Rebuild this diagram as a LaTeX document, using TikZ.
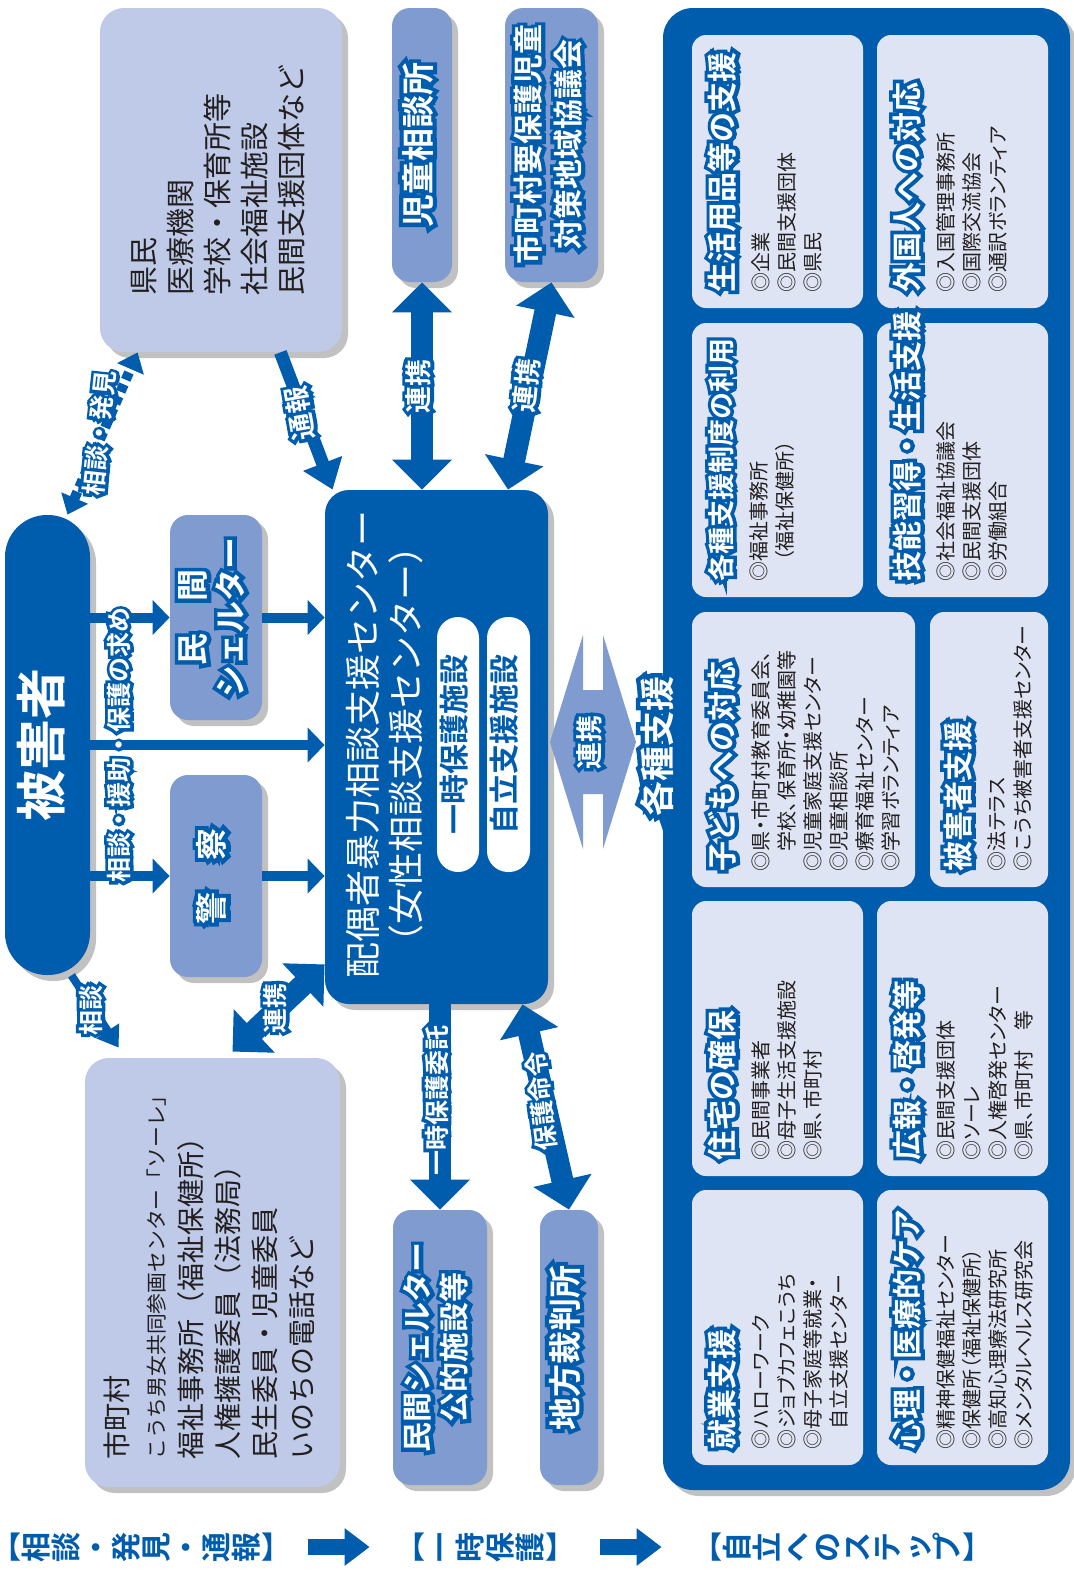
\documentclass[tikz,border=0pt]{standalone}
\usepackage{fontspec}
\usepackage{graphicx}
\setmainfont{Noto Sans CJK JP}
\newfontfamily\hfont{Noto Sans CJK JP Bold}
\newfontfamily\hofont{Noto Sans CJK JP Bold}[FakeBold=25]
\newfontfamily\itemfont{Noto Sans CJK JP}[RawFeature=+palt]
\usetikzlibrary{arrows.meta, positioning, calc, fit, shadows}

\definecolor{dv}{RGB}{0,92,172}
\definecolor{midb}{RGB}{127,155,208}
\definecolor{lav}{RGB}{190,202,231}
\definecolor{pale}{RGB}{222,228,243}
\definecolor{ink}{RGB}{35,31,32}

\newcommand\fs[2]{\fontsize{#1}{#2}\selectfont}
\newcommand\halo[1]{\leavevmode\rlap{\textcolor{dv}{\hofont #1}}\textcolor{white}{\hfont #1}}
\newcommand\vl[2][90]{\raisebox{-\height}{\rotatebox{#1}{\begin{tabular}{@{}c@{}}#2\end{tabular}}}}
\newcommand\vll[1]{\raisebox{-\height}{\rotatebox{90}{\begin{tabular}{@{}l@{}}#1\end{tabular}}}}
\newcommand\rc[1]{\rotatebox[origin=c]{90}{\raisebox{0pt}[.88em][.12em]{#1}}}
\newcommand\paneltext[3][15]{\fs{10}{13}\itemfont
  \rotatebox{90}{\begin{tabular}{@{}l@{}}{\fs{#1}{13}\halo{#2}}\\[4.5pt]#3\end{tabular}}}

\begin{document}
\begin{tikzpicture}[x=0.5pt, y=-0.5pt,
  box/.style={inner sep=0pt, drop shadow={shadow xshift=3pt, shadow yshift=-3pt,
              fill=black!60, opacity=.4}},
  lavbox/.style={box, fill=lav, rounded corners=12pt, text=ink},
  midbox/.style={box, fill=midb, rounded corners=9pt},
  darkbox/.style={box, fill=dv, rounded corners=12pt, text=white},
  pane/.style={inner sep=0pt, fill=pale, rounded corners=7pt},
  pill/.style={inner sep=0pt, fill=white, rounded corners=10.5pt, text=dv, font=\hfont},
  ptxt/.style={anchor=south west, inner sep=0pt, text=ink},
  lbl/.style={inner sep=0pt},
  stage/.style={inner sep=0pt, text=dv, font={\fs{15}{18}\hfont}},
  arr/.style={draw=dv, line width=5pt, -{Triangle[length=8.5pt, width=17pt]}},
  sarr/.style={draw=dv, line width=4pt, -{Triangle[length=10pt, width=13pt]}},
  marr/.style={draw=dv, line width=6.5pt, -{Triangle[length=14pt, width=20pt]}},
  farr/.style={draw=dv, line width=11pt, -{Triangle[length=15pt, width=29pt]}},
  dfarr/.style={farr, {Triangle[length=15pt, width=29pt]}-{Triangle[length=15pt, width=29pt]}},
  darr/.style={draw=dv, line width=5pt, dash pattern=on 4pt off 2.5pt,
               {Triangle[length=9pt, width=14pt]}-{Triangle[length=9pt, width=14pt]}},
  starr/.style={draw=dv, line width=8pt, -{Triangle[length=12.5pt, width=18pt]}}
]
\fill[white] (0,0) rectangle (1073,1574);
\useasboundingbox (0,0) rectangle (1073,1574);

% consultation column
\node[lavbox, fit={(100,8) (342,352)}] (kenmin)
  {\fs{14.5}{18.5}\vll{県民\\医療機関\\学校・保育所等\\社会福祉施設\\民間支援団体など}};
\node[darkbox, rounded corners=21pt, fit={(5,515) (90,975)}] (higaisha)
  {\fs{25.5}{30}\hfont\vl{被害者}};
\node[midbox, fit={(170,515) (262,720)}] (shelter)
  {\fs{16}{19}\vl{\halo{民　間}\\\halo{シェルター}}};
\node[midbox, fit={(170,775) (262,977)}] (keisatsu)
  {\fs{16}{19}\vl{\halo{警　察}}};
\node[lavbox, fit={(85,1058) (340,1487)}] (shichoson)
  {\fs{14}{18.5}\vll{市町村\\{\fs{10.4}{18.5}こうち男女共同参画センター「ソーレ」}\\
   福祉事務所（福祉保健所）\\人権擁護委員（法務局）\\民生委員・児童委員\\いのちの電話など}};

% centre and protection column
\node[darkbox, fit={(325,490) (548,1004)}] (dv) {};
\node[lbl, text=white] (dvtitle) at (389,744)
  {\fs{18}{20.5}\vl{配偶者暴力相談支援センター\\（女性相談支援センター）}};
\node[pill, fit={(437,617) (479,872)}] (hogo) {\fs{15}{18}\vl{一時保護施設}};
\node[pill, fit={(487,617) (530,872)}] (jiritsu) {\fs{15}{18}\vl{自立支援施設}};
\node[midbox, fit={(392,8) (452,282)}] (jido) {\fs{16.5}{20}\vl{\halo{児童相談所}}};
\node[midbox, fit={(505,8) (598,282)}] (kyogikai)
  {\fs{15}{20}\vl{\halo{市町村要保護児童}\\\halo{対策地域協議会}}};
\node[midbox, fit={(393,1210) (487,1485)}] (ichiji)
  {\fs{15}{18.5}\vl{\halo{民間シェルター}\\\halo{公的施設等}}};
\node[midbox, fit={(540,1210) (598,1485)}] (chisai) {\fs{16.5}{20}\vl{\halo{地方裁判所}}};

% support panel
\node[darkbox, rounded corners=15pt, fit={(663,8) (1070,1490)}] (panel) {};
\node[pane, fit={(692,35) (863,308)}] (seikatsu) {};
\node[pane, fit={(877,35) (1048,308)}] (gaikoku) {};
\node[pane, fit={(692,323) (863,597)}] (seido) {};
\node[pane, fit={(877,323) (1048,597)}] (gino) {};
\node[pane, fit={(692,612) (915,887)}] (kodomo) {};
\node[pane, fit={(930,612) (1048,887)}] (higai) {};
\node[pane, fit={(692,901) (863,1176)}] (jutaku) {};
\node[pane, fit={(877,901) (1048,1176)}] (koho) {};
\node[pane, fit={(692,1190) (863,1465)}] (shugyo) {};
\node[pane, fit={(877,1190) (1048,1465)}] (shinri) {};

\node[ptxt] (seikatsu-t) at ([xshift=8pt, yshift=8pt]seikatsu.south west)
  {\paneltext{生活用品等の支援}{◎企業\\◎民間支援団体\\◎県民}};
\node[ptxt] (gaikoku-t) at ([xshift=8pt, yshift=8pt]gaikoku.south west)
  {\paneltext{外国人への対応}{◎入国管理事務所\\◎国際交流協会\\◎通訳ボランティア}};
\node[ptxt] (seido-t) at ([xshift=8pt, yshift=8pt]seido.south west)
  {\paneltext[13.5]{各種支援制度の利用}{◎福祉事務所\\　（福祉保健所）}};
\node[ptxt] (gino-t) at ([xshift=8pt, yshift=8pt]gino.south west)
  {\paneltext{技能習得・生活支援}{◎社会福祉協議会\\◎民間支援団体\\◎労働組合}};
\node[ptxt] (kodomo-t) at ([xshift=8pt, yshift=8pt]kodomo.south west)
  {\paneltext{子どもへの対応}{◎県・市町村教育委員会、\\　学校、保育所・幼稚園等\\
   ◎児童家庭支援センター\\◎児童相談所\\◎療育福祉センター\\◎学習ボランティア}};
\node[ptxt] (higai-t) at ([xshift=7pt, yshift=8pt]higai.south west)
  {\paneltext{被害者支援}{◎法テラス\\◎こうち被害者支援センター}};
\node[ptxt] (jutaku-t) at ([xshift=8pt, yshift=8pt]jutaku.south west)
  {\paneltext{住宅の確保}{◎民間事業者\\◎母子生活支援施設\\◎県、市町村}};
\node[ptxt] (koho-t) at ([xshift=8pt, yshift=8pt]koho.south west)
  {\paneltext{広報・啓発等}{◎民間支援団体\\◎ソーレ\\◎人権啓発センター\\◎県、市町村　等}};
\node[ptxt] (shugyo-t) at ([xshift=8pt, yshift=8pt]shugyo.south west)
  {\paneltext{就業支援}{◎ハローワーク\\◎ジョブカフェこうち\\◎母子家庭等就業・\\　自立支援センター}};
\node[ptxt] (shinri-t) at ([xshift=8pt, yshift=8pt]shinri.south west)
  {\paneltext{心理・医療的ケア}{◎精神保健福祉センター\\◎保健所（福祉保健所）\\
   ◎高知心理療法研究所\\◎メンタルヘルス研究会}};

% link between centre and panel
\coordinate (rkc) at (593,742);
\fill[midb] ($(rkc)+(-43,0)$) -- ++(33,-107) -- ++(0,55) -- ++(20,0) -- ++(0,-55)
  -- ++(33,107) -- ++(-33,107) -- ++(0,-55) -- ++(-20,0) -- ++(0,55) -- cycle;
\node[lbl] (renkei) at (rkc) {\fs{13.5}{16}\vl{\halo{連携}}};
\node[lbl] (kakushu) at (661,746) {\fs{17.5}{20}\vl{\halo{各種支援}}};

% connectors
\draw[darr] ([xshift=10pt]higaisha.north) -- ([xshift=19pt]kenmin.south west)
  node[lbl, midway] {\fs{12.5}{15}\vl[84]{\halo{相談・発見}}};
\draw[marr] ([xshift=-31pt]kenmin.south east) -- ([xshift=4pt]dv.north west)
  node[lbl, pos=.44] {\fs{13.5}{16}\vl[100]{\halo{通報}}};
\draw[dfarr] (jido.south) -- ([xshift=-7.25pt]dv.north)
  node[lbl, midway] {\fs{13.5}{16}\vl{\halo{連携}}};
\draw[dfarr] (kyogikai.south) -- ([xshift=35.75pt]dv.north)
  node[lbl, midway] {\fs{13.5}{16}\vl[84]{\halo{連携}}};

\draw[arr] (higaisha.east |- shelter.west) -- (shelter.west);
\draw[arr] (shelter.east) -- (shelter.east -| dv.west);
\draw[arr] (higaisha.east |- keisatsu.west) -- (keisatsu.west);
\draw[arr] (keisatsu.east) -- (keisatsu.east -| dv.west);
\draw[arr] (higaisha.east) -- (higaisha.east -| dv.west)
  node[lbl, pos=.136] {\fs{12.5}{15}\vl{\halo{相談・援助・保護の求め}}};

\draw[sarr] ([xshift=12pt]higaisha.south) -- ([xshift=17pt, yshift=5pt]shichoson.north west)
  node[lbl, pos=.48] {\fs{12.5}{15}\vl{\halo{相談}}};
\draw[dfarr] ([yshift=20pt]dv.south west) -- ([xshift=10pt, yshift=3pt]shichoson.north)
  node[lbl, midway] {\fs{12.5}{15}\vl{\halo{連携}}};
\draw[farr] (dv.south -| ichiji.north) -- (ichiji.north)
  node[lbl, pos=.47] {\fs{12.5}{15}\vl{\halo{一時保護委託}}};
\draw[dfarr] ([xshift=43pt]dv.south) -- (chisai.north)
  node[lbl, pos=.47] {\fs{12.5}{15}\vl[97]{\halo{保護命令}}};

% stages
\node[stage] (st1) at (141,1547) {【\rc{相}\rc{談}\rc{・}\rc{発}\rc{見}\rc{・}\rc{通}\rc{報}】};
\node[stage] (st2) at (485,1547) {【\rc{一}\rc{時}\rc{保}\rc{護}】};
\node[stage] (st3) at (842,1547) {【\rc{自}\rc{立}\rc{へ}\rc{の}\rc{ス}\rc{テ}\rc{ッ}\rc{プ}】};
\draw[starr, shorten <=8.5pt, shorten >=12.5pt] (st1) -- (st2);
\draw[starr, shorten <=12.5pt, shorten >=15pt] (st2) -- (st3);
\end{tikzpicture}
\end{document}
